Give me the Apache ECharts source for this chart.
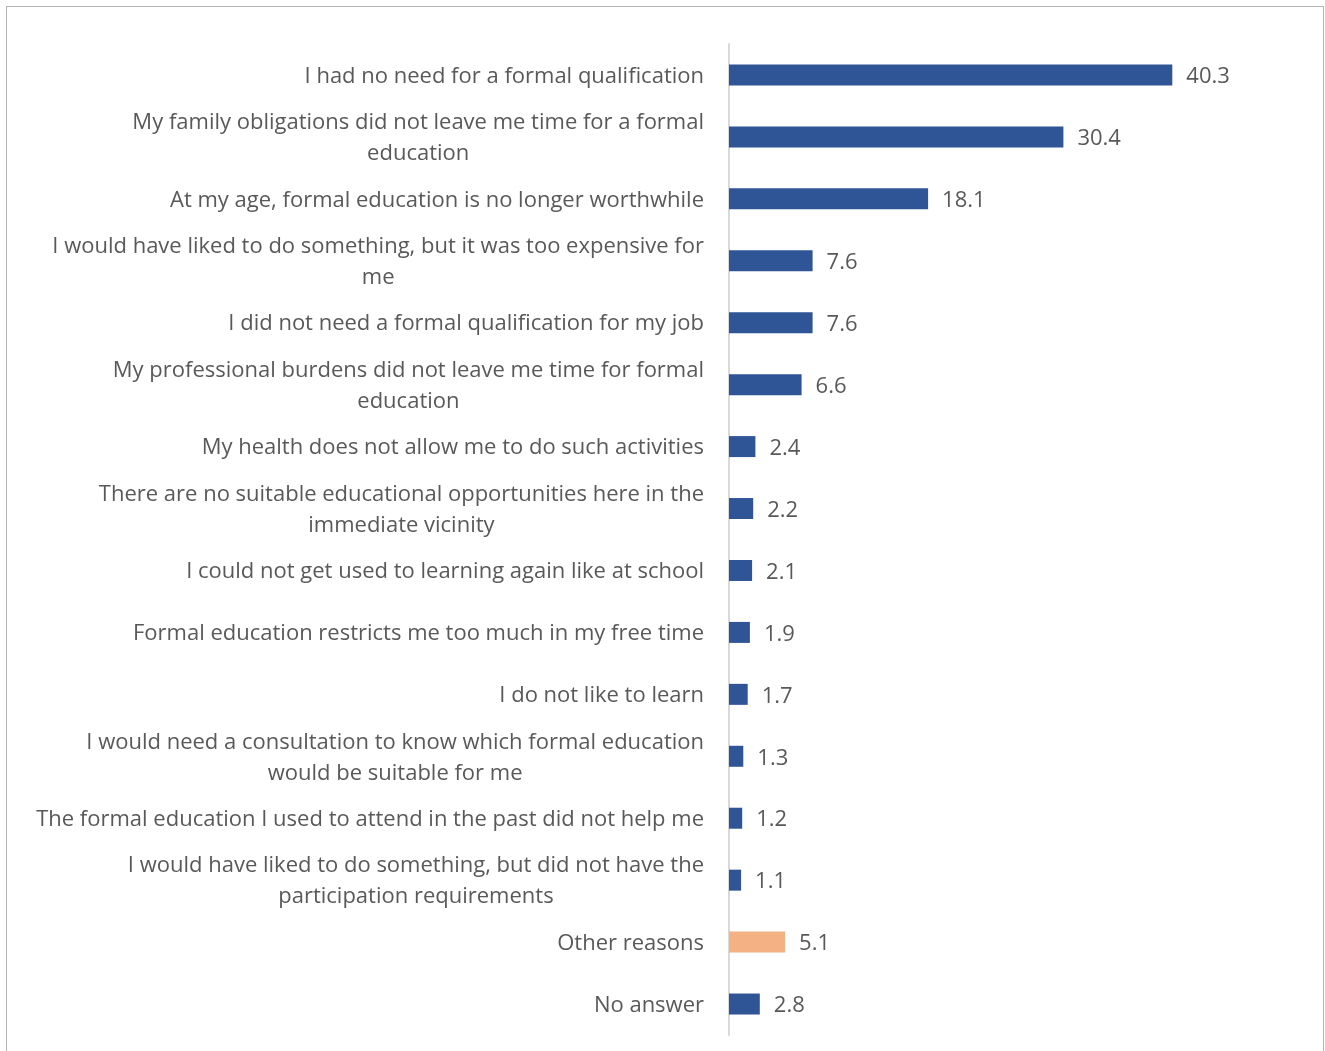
<!DOCTYPE html>
<html>
<head>
<meta charset="utf-8">
<script src="https://cdn.jsdelivr.net/npm/echarts@6/dist/echarts.min.js"></script>
<style>
  html, body { margin: 0; padding: 0; background: #fff; }
  #chart { position: absolute; left: 0; top: 0; width: 1325px; height: 1051px; }
  #frame { position: absolute; left: 6px; top: 6px; width: 1316px; height: 1060px;
           border: 1px solid #b4b4b4; pointer-events: none; }
</style>
</head>
<body>
<div id="chart"></div>
<div id="frame"></div>
<script>
// reasons, top to bottom
const reasons = [
  'I had no need for a formal qualification',
  'My family obligations did not leave me time for a formal\neducation',
  'At my age, formal education is no longer worthwhile',
  'I would have liked to do something, but it was too expensive for\nme',
  'I did not need a formal qualification for my job',
  'My professional burdens did not leave me time for formal\neducation',
  'My health does not allow me to do such activities',
  'There are no suitable educational opportunities here in the\nimmediate vicinity',
  'I could not get used to learning again like at school',
  'Formal education restricts me too much in my free time',
  'I do not like to learn',
  'I would need a consultation to know which formal education\nwould be suitable for me',
  'The formal education I used to attend in the past did not help me',
  'I would have liked to do something, but did not have the\nparticipation requirements',
  'Other reasons',
  'No answer'
]
const shares = [40.3, 30.4, 18.1, 7.6, 7.6, 6.6, 2.4, 2.2, 2.1, 1.9, 1.7, 1.3, 1.2, 1.1, 5.1, 2.8]
const highlighted = ['Other reasons']

const BLUE = '#2F5597'
const ORANGE = '#F4B183'
const FONT = '"Open Sans", "Noto Sans", sans-serif'

const chart = echarts.init(document.getElementById('chart'))

chart.setOption({
  animation: false,
  textStyle: { fontFamily: FONT },
  grid: { left: 729, right: 46, top: 44, bottom: 16 },
  xAxis: {
    type: 'value',
    min: 0,
    max: 50,
    show: false
  },
  yAxis: {
    type: 'category',
    inverse: true,
    data: reasons,
    axisLine: { show: true, lineStyle: { color: '#d9d9d9', width: 2 } },
    axisTick: { show: false },
    axisLabel: {
      margin: 25,
      align: 'right',
      padding: [3, 0, 0, 0],
      // wrapped lines are centred on each other, block stays right aligned
      formatter: v => v.split('\n').map(s => '{t|' + s + '}').join('\n'),
      rich: {
        t: {
          color: '#595959',
          fontFamily: FONT,
          fontSize: 22,
          lineHeight: 31,
          align: 'center'
        }
      }
    }
  },
  series: [{
    type: 'bar',
    barWidth: 21,
    data: shares.map((v, i) => ({
      value: v,
      itemStyle: { color: highlighted.includes(reasons[i]) ? ORANGE : BLUE }
    })),
    label: {
      show: true,
      position: 'right',
      distance: 14,
      offset: [0, 2],
      color: '#595959',
      fontSize: 22,
      formatter: p => p.value.toFixed(1)
    }
  }]
})

window.addEventListener('resize', () => chart.resize())
</script>
</body>
</html>
